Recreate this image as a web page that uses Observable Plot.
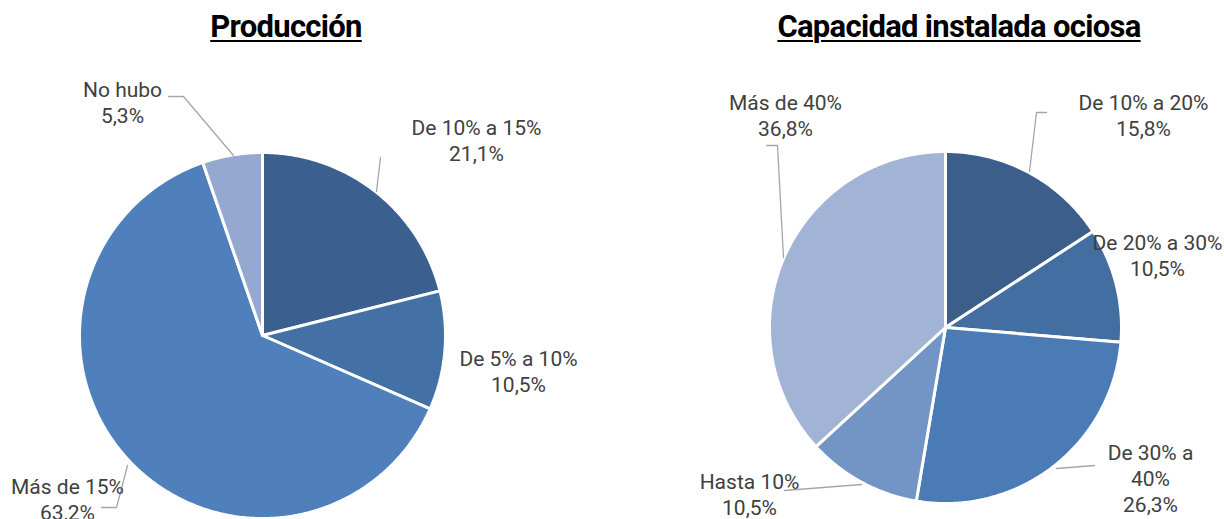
<!DOCTYPE html>
<html><head><meta charset="utf-8">
<script src="https://cdn.jsdelivr.net/npm/d3@7"></script>
<script src="https://cdn.jsdelivr.net/npm/@observablehq/plot@0.6"></script>
<style>
body{margin:0;background:#fff;font-family:Roboto,sans-serif}
#wrap{position:relative;width:1224px;height:519px;overflow:hidden}
.title{position:absolute;top:10px;transform:translateX(-50%);font-family:Roboto,sans-serif;font-weight:bold;font-size:31px;line-height:34px;text-decoration:underline;text-decoration-thickness:2px;text-underline-offset:3px;white-space:nowrap;color:#000;letter-spacing:-0.7px}
#chart{position:absolute;top:50px;left:0}
</style></head><body>
<div id="wrap">
<div class="title" style="left:286px">Producción</div>
<div class="title" style="left:959px">Capacidad instalada ociosa</div>
<div id="chart"></div>
</div>
<script>
// Data
const prodCats = ["De 10% a 15%", "De 5% a 10%", "Más de 15%", "No hubo"];
const prodVals = [21.1, 10.5, 63.2, 5.3];
const prodLabels = ["De 10% a 15%", "De 5% a 10%", "Más de 15%", "No hubo"];
const capCats = ["De 10% a 20%", "De 20% a 30%", "De 30% a 40%", "Hasta 10%", "Más de 40%"];
const capVals = [15.8, 10.5, 26.3, 10.5, 36.8];
const capLabels = ["De 10% a 20%", "De 20% a 30%", "De 30% a\n40%", "Hasta 10%", "Más de 40%"];

// Styles
const prodColors = ["#3b5f8e", "#4471a5", "#4f80bc", "#95a9d0"];
const capColors = ["#3b5e8b", "#436ea2", "#4a7bb5", "#7395c6", "#a2b4d5"];

// Layout (page pixel coordinates)
const TOP = 50;
const prodPie = {cx: 262, cy: 335, r: 183};
const capPie = {cx: 945, cy: 327, r: 176};
const prodLabelPos = [[476, 139], [518, 370], [67, 498.5], [122, 101]];
const capLabelPos = [[1143, 114], [1157, 254], [1150, 477], [749, 493], [785, 114]];
const leaders = [
  {id: "a", pts: [[168, 96], [183, 96], [233, 155]]},
  {id: "b", pts: [[380, 157], [376, 191]]},
  {id: "c", pts: [[127, 465], [116, 507], [101, 507]]},
  {id: "d", pts: [[766, 145], [777, 145], [783, 257]]},
  {id: "e", pts: [[1046, 112], [1036, 112], [1029, 171]]},
  {id: "f", pts: [[1056, 468], [1094, 465]]},
  {id: "g", pts: [[784, 490], [861, 484]]}
];

function slicePoints(cats, vals, pie) {
  const arcs = d3.pie().sort(null).value(d => d)(vals);
  const pts = [];
  arcs.forEach((a, i) => {
    const key = cats[i];
    pts.push({key, x: pie.cx, y: pie.cy});
    const n = Math.max(2, Math.ceil((a.endAngle - a.startAngle) / 0.01));
    for (let k = 0; k <= n; k++) {
      const t = a.startAngle + (a.endAngle - a.startAngle) * k / n;
      pts.push({key, x: pie.cx + pie.r * Math.sin(t), y: pie.cy - pie.r * Math.cos(t)});
    }
    pts.push({key, x: pie.cx, y: pie.cy});
  });
  return pts;
}

const fmt = v => v.toFixed(1).replace(".", ",") + "%";
const labelData = [
  ...prodLabels.map((l, i) => ({x: prodLabelPos[i][0], y: prodLabelPos[i][1], text: l + "\n" + fmt(prodVals[i])})),
  ...capLabels.map((l, i) => ({x: capLabelPos[i][0], y: capLabelPos[i][1], text: l + "\n" + fmt(capVals[i])}))
];
const leaderData = leaders.flatMap(l => l.pts.map(p => ({id: l.id, x: p[0], y: p[1]})));

const chart = Plot.plot({
  width: 1224,
  height: 519 - TOP,
  margin: 0,
  x: {domain: [0, 1224], range: [0, 1224], axis: null},
  y: {domain: [TOP, 519], range: [0, 519 - TOP], axis: null},
  color: {domain: [...prodCats, ...capCats], range: [...prodColors, ...capColors]},
  style: {background: "white", fontFamily: "Roboto, sans-serif"},
  marks: [
    Plot.line(slicePoints(prodCats, prodVals, prodPie), {x: "x", y: "y", z: "key", fill: "key", stroke: "white", strokeWidth: 3, strokeLinejoin: "miter"}),
    Plot.line(slicePoints(capCats, capVals, capPie), {x: "x", y: "y", z: "key", fill: "key", stroke: "white", strokeWidth: 3, strokeLinejoin: "miter"}),
    Plot.line(leaderData, {x: "x", y: "y", z: "id", stroke: "#a6a6a6", strokeWidth: 1.3}),
    Plot.text(labelData, {x: "x", y: "y", text: "text", fontSize: 21, fill: "#404040", lineHeight: 1.24})
  ]
});
document.getElementById("chart").appendChild(chart);
</script>
</body></html>
